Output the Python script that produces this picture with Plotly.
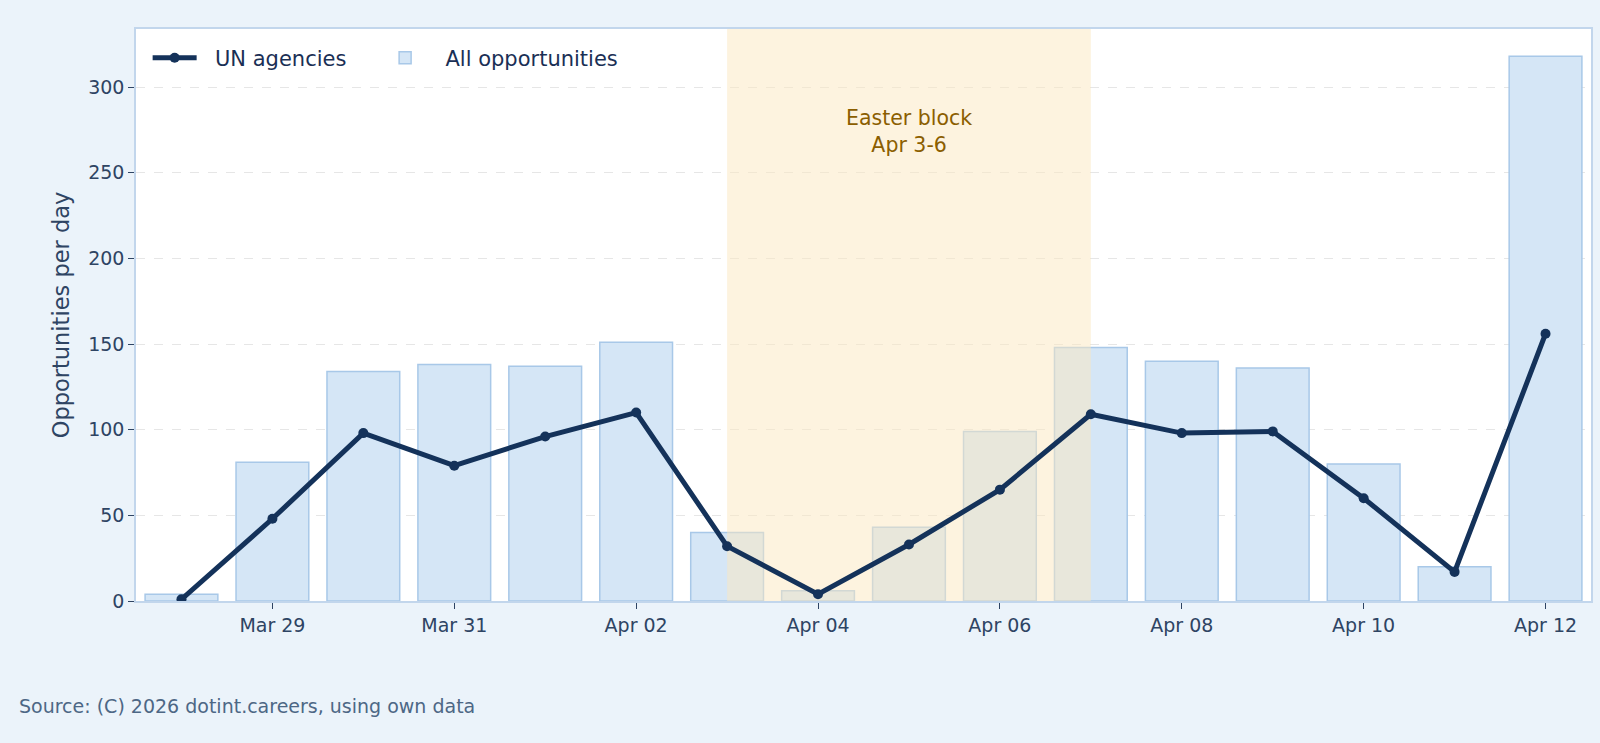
import plotly.graph_objects as go
import pandas as pd

# ---- data ----
dates = pd.date_range("2026-03-28", "2026-04-12", freq="D").strftime("%Y-%m-%d").tolist()
all_opportunities = [4, 81, 134, 138, 137, 151, 40, 6, 43, 99, 148, 140, 136, 80, 20, 318]
un_agencies = [1, 48, 98, 79, 96, 110, 32, 4, 33, 65, 109, 98, 99, 60, 17, 156]
easter_start = "2026-04-03"
easter_end = "2026-04-07"
easter_label = "Easter block<br>Apr 3-6"
series_names = ["UN agencies", "All opportunities"]
y_title = "Opportunities per day"
source_text = "Source: (C) 2026 dotint.careers, using own data"

DAY_MS = 86400000
FONT = "DejaVu Sans"
NB = "\u00a0\u00a0"
TRAIL = "\u00a0" * 4
ymax = max(all_opportunities) * 1.05
x_lo = (pd.Timestamp(dates[0]) - pd.Timedelta(hours=12)).strftime("%Y-%m-%d %H:%M")
x_hi = (pd.Timestamp(dates[-1]) + pd.Timedelta(hours=12)).strftime("%Y-%m-%d %H:%M")
easter_mid = (pd.Timestamp(easter_start) + (pd.Timestamp(easter_end) - pd.Timestamp(easter_start)) / 2).strftime("%Y-%m-%d %H:%M")

fig = go.Figure()

fig.add_trace(go.Bar(
    x=dates, y=all_opportunities, name=NB + series_names[1],
    width=[0.8 * DAY_MS] * len(dates),
    marker=dict(color="#D5E6F6", line=dict(color="#A8C8E8", width=1.5)),
    legendrank=2, yaxis="y", hoverinfo="x+y",
))

# Easter band (drawn above bars, below line)
fig.add_trace(go.Scatter(
    x=[easter_start, easter_end, easter_end, easter_start, easter_start],
    y=[0, 0, 1, 1, 0], yaxis="y2", mode="lines", fill="toself",
    fillcolor="rgba(251,232,192,0.5)", line=dict(width=0),
    showlegend=False, hoverinfo="skip",
))

fig.add_trace(go.Scatter(
    x=dates, y=un_agencies, name=NB + series_names[0] + TRAIL, yaxis="y3",
    mode="lines+markers",
    line=dict(color="#14325A", width=5),
    marker=dict(color="#14325A", size=10),
    legendrank=1,
))

tick_color = "#2E4463"
fig.update_layout(
    width=1600, height=743,
    paper_bgcolor="#EBF3FA", plot_bgcolor="#FFFFFF",
    margin=dict(l=136, r=7, t=29, b=142),
    font=dict(family=FONT, size=19, color=tick_color),
    showlegend=True,
    legend=dict(orientation="h", x=0.008, y=0.985, xanchor="left", yanchor="top",
                bgcolor="rgba(0,0,0,0)", font=dict(size=21, color="#1A2F55"),
                traceorder="normal", itemwidth=44),
    xaxis=dict(type="date", range=[x_lo, x_hi], tick0=dates[1], dtick=2 * DAY_MS,
               tickformat="%b %d", showgrid=False, ticks="outside", ticklen=6,
               tickcolor=tick_color, showline=True, linecolor="#C2D6EC", linewidth=1.5,
               mirror=True, tickfont=dict(size=19, color=tick_color), zeroline=False),
    yaxis=dict(range=[0, ymax], dtick=50, showgrid=True, gridcolor="#E6E6E6",
               griddash="dash", gridwidth=1, ticks="outside", ticklen=6,
               tickcolor=tick_color, showline=True, linecolor="#C2D6EC", linewidth=1.5,
               mirror=True, zeroline=False, tickfont=dict(size=19, color=tick_color),
               title=dict(text=y_title, font=dict(size=22.5, color=tick_color), standoff=12)),
    yaxis2=dict(range=[0, 1], overlaying="y", visible=False, showgrid=False, fixedrange=True),
    yaxis3=dict(range=[0, ymax], overlaying="y", visible=False, showgrid=False),
    annotations=[
        dict(x=easter_mid, y=0.82, xref="x", yref="paper", text=easter_label,
             showarrow=False, font=dict(size=20.5, color="#8B5E00", family=FONT),
             xanchor="center", yanchor="middle"),
        dict(x=-0.082, y=-0.184, xref="paper", yref="paper", text=source_text,
             showarrow=False, font=dict(size=19, color="#4D6785", family=FONT),
             xanchor="left", yanchor="middle"),
    ],
)

fig.write_html("out.html")
